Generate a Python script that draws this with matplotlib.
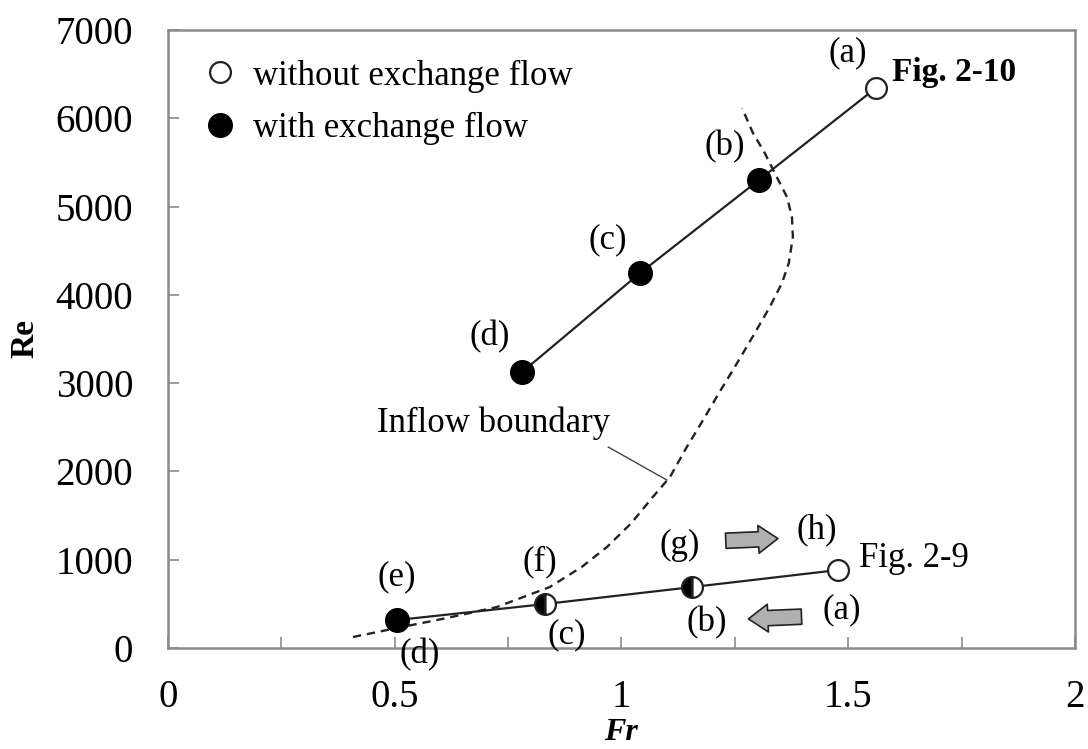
import matplotlib
matplotlib.use("Agg")
import matplotlib.pyplot as plt
from matplotlib.lines import Line2D

plt.rcParams['font.family'] = ['Liberation Serif', 'DejaVu Serif']

# Fig. 2-10 series (a)-(d)
fr_210 = [1.561, 1.303, 1.041, 0.781]
re_210 = [6342, 5300, 4247, 3126]

# Fig. 2-9 series (a)/(h), (b)/(g), (c)/(f), (d)/(e)
fr_29 = [1.477, 1.155, 0.831, 0.505]
re_29 = [883, 690, 498, 317]

# Inflow boundary curve
fr_bnd = [0.408, 0.483, 0.615, 0.725, 0.842, 0.912, 0.968, 1.022, 1.069, 1.107,
          1.144, 1.180, 1.215, 1.259, 1.294, 1.327, 1.354, 1.369, 1.378,
          1.376, 1.365, 1.338, 1.316, 1.290, 1.266]
re_bnd = [125, 204, 340, 464, 691, 917, 1144, 1416, 1710, 1937,
          2276, 2582, 2888, 3262, 3567, 3862, 4134, 4360, 4655,
          4881, 5108, 5379, 5606, 5832, 6115]

x_ticks = [0, 0.5, 1, 1.5, 2]
x_ticklabels = ['0', '0.5', '1', '1.5', '2']
y_ticks = [0, 1000, 2000, 3000, 4000, 5000, 6000, 7000]

fig = plt.figure(figsize=(10.88, 7.49), dpi=100)
ax = fig.add_axes([0.1544, 0.1348, 0.8336, 0.8252])

ax.set_xlim(0, 2)
ax.set_ylim(0, 7000)

# boundary
ax.plot(fr_bnd, re_bnd, color='#222222', lw=1.7, ls=(0, (3.5, 2.5)), zorder=2)

# Fig. 2-10 line and markers
ax.plot(fr_210, re_210, color='#222222', lw=1.6, zorder=3)
ax.plot(fr_210[:1], re_210[:1], 'o', ms=15, mfc='white', mec='#222222', mew=1.6, zorder=4)
ax.plot(fr_210[1:], re_210[1:], 'o', ms=17, mfc='black', mec='black', zorder=4)

# Fig. 2-9 line and markers
ax.plot(fr_29, re_29, color='#222222', lw=1.6, zorder=3)
ax.plot(fr_29[:1], re_29[:1], 'o', ms=15, mfc='white', mec='#222222', mew=1.6, zorder=4)
ax.plot(fr_29[1:3], re_29[1:3], 'o', ms=15, fillstyle='left', mfc='black',
        mfcalt='white', mec='#222222', mew=1.6, zorder=4)
ax.plot(fr_29[3:], re_29[3:], 'o', ms=17, mfc='black', mec='black', zorder=4)

fs = 25
# labels Fig. 2-10
ax.text(1.499, 6738, '(a)', fontsize=fs, ha='center', va='center')
ax.text(1.228, 5674, '(b)', fontsize=fs, ha='center', va='center')
ax.text(0.970, 4620, '(c)', fontsize=fs, ha='center', va='center')
ax.text(0.710, 3522, '(d)', fontsize=fs, ha='center', va='center')
ax.text(1.597, 6523, 'Fig. 2-10', fontsize=fs - 1, fontweight='bold', ha='left', va='center')

# labels Fig. 2-9
ax.text(0.505, 804, '(e)', fontsize=fs, ha='center', va='center')
ax.text(0.820, 974, '(f)', fontsize=fs, ha='center', va='center')
ax.text(1.129, 1166, '(g)', fontsize=fs, ha='center', va='center')
ax.text(1.431, 1336, '(h)', fontsize=fs, ha='center', va='center')
ax.text(1.486, 430, '(a)', fontsize=fs, ha='center', va='center')
ax.text(1.189, 283, '(b)', fontsize=fs, ha='center', va='center')
ax.text(0.880, 147, '(c)', fontsize=fs, ha='center', va='center')
ax.text(0.556, -79, '(d)', fontsize=fs, ha='center', va='center', clip_on=False)
ax.text(1.524, 1019, 'Fig. 2-9', fontsize=fs, ha='left', va='center')

# inflow boundary annotation
ax.text(0.461, 2548, 'Inflow boundary', fontsize=fs, ha='left', va='center')
ax.plot([0.971, 1.100], [2276, 1903], color='#444444', lw=1.0)

# block arrows
arrow_kw = dict(arrowstyle='simple,head_length=0.7,head_width=1.0,tail_width=0.55',
                mutation_scale=20, fc='#b0b0b0', ec='#222222', lw=1.2,
                shrinkA=0, shrinkB=0)
ax.annotate('', xy=(1.345, 1240), xytext=(1.230, 1215), arrowprops=arrow_kw)
ax.annotate('', xy=(1.280, 330), xytext=(1.397, 355), arrowprops=arrow_kw)

# legend
handles = [
    Line2D([], [], ls='none', marker='o', ms=15, mfc='white', mec='#222222', mew=1.6),
    Line2D([], [], ls='none', marker='o', ms=17, mfc='black', mec='black'),
]
ax.legend(handles, ['without exchange flow', 'with exchange flow'], loc='upper left',
          frameon=False, fontsize=fs, handletextpad=0.3, labelspacing=0.55,
          borderaxespad=0.45, handlelength=1.3)

# axes styling
for s in ax.spines.values():
    s.set_color('#8a8a8a')
    s.set_linewidth(1.8)

ax.set_xticks(x_ticks)
ax.set_xticklabels(x_ticklabels)
ax.set_xticks([0.25, 0.75, 1.25, 1.75], minor=True)
ax.set_yticks(y_ticks)
ax.tick_params(axis='both', direction='in', length=8, width=1.2, color='#8a8a8a',
               labelsize=28)
ax.tick_params(axis='x', which='minor', direction='in', length=8, width=1.2, color='#8a8a8a')
ax.tick_params(axis='x', pad=22)
ax.tick_params(axis='y', pad=25)

ax.set_xlabel('Fr', fontsize=23, fontweight='bold', fontstyle='italic')
ax.xaxis.set_label_coords(0.5, -0.113)
ax.set_ylabel('Re', fontsize=24, fontweight='bold')
ax.yaxis.set_label_coords(-0.141, 0.5)

fig.savefig('out.png', dpi=100)
